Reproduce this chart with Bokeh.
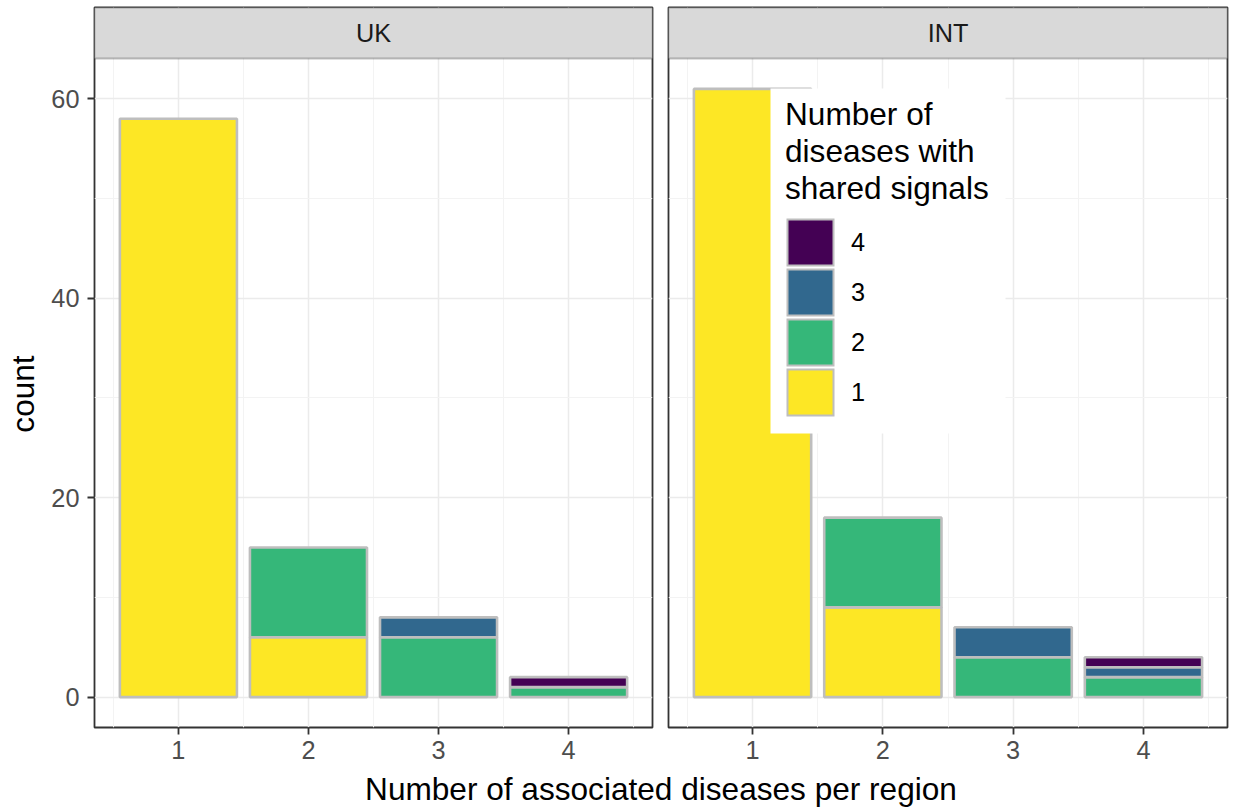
import math
from bokeh.plotting import figure
from bokeh.models import (ColumnDataSource, Range1d, FixedTicker, BoxAnnotation,
                          Label, Legend, LegendItem)
from bokeh.layouts import row, column
from bokeh.embed import file_html
from bokeh.resources import INLINE

# ---------------- data ----------------
x_values = [1, 2, 3, 4]
levels = ["1", "2", "3", "4"]
facets = ["UK", "INT"]

uk_level1 = [58, 6, 0, 0]
uk_level2 = [0, 9, 6, 1]
uk_level3 = [0, 0, 2, 0]
uk_level4 = [0, 0, 0, 1]

int_level1 = [61, 9, 0, 0]
int_level2 = [0, 9, 4, 2]
int_level3 = [0, 0, 3, 1]
int_level4 = [0, 0, 0, 1]

y_ticks = [0, 20, 40, 60]
y_minor = [10, 30, 50]
x_minor = [0.5, 1.5, 2.5, 3.5, 4.5]

legend_title = "Number of\ndiseases with\nshared signals"
x_title = "Number of associated diseases per region"
y_title = "count"

colors = {"1": "#FDE725", "2": "#35B779", "3": "#31688E", "4": "#440154"}
FONT = "Liberation Sans"
BIG = "31.6px"
SMALL = "25.3px"

facet_data = {
    "UK": [uk_level1, uk_level2, uk_level3, uk_level4],
    "INT": [int_level1, int_level2, int_level3, int_level4],
}

# ranges
ymax = max(max(sum(c) for c in zip(*facet_data[f])) for f in facets)
y_lo = -0.05 * ymax
y_hi = ymax * 1.05
x_lo, x_hi = 0.355, 4.645
frame_h = 720
strip_px = 51
panel_px = frame_h - strip_px
y_top = y_hi + (y_hi - y_lo) * strip_px / panel_px
top_border = 7
bottom_border = 45
fig_h = top_border + frame_h + bottom_border
title_w = 46


def make_panel(name, show_y, mb_left, mb_right, fw):
    p = figure(frame_width=fw, frame_height=frame_h, output_backend="svg",
               toolbar_location=None, x_range=Range1d(x_lo, x_hi),
               y_range=Range1d(y_lo, y_top),
               y_axis_location="left" if show_y else None,
               min_border_left=mb_left, min_border_right=mb_right,
               min_border_top=top_border, min_border_bottom=bottom_border)
    p.background_fill_color = "white"
    p.border_fill_color = "white"
    p.outline_line_color = "#333333"
    p.outline_line_width = 1.8

    p.xgrid.ticker = FixedTicker(ticks=x_values, minor_ticks=x_minor)
    p.ygrid.ticker = FixedTicker(ticks=y_ticks, minor_ticks=y_minor)
    for g in (p.xgrid, p.ygrid):
        g.grid_line_color = "#EBEBEB"
        g.grid_line_width = 1.5
        g.minor_grid_line_color = "#F3F3F3"
        g.minor_grid_line_width = 1.0

    xa = p.xaxis[0]
    xa.ticker = FixedTicker(ticks=x_values)
    xa.axis_line_color = None
    xa.major_tick_line_color = "#333333"
    xa.major_tick_line_width = 1.8
    xa.major_tick_out = 7
    xa.major_tick_in = 0
    xa.minor_tick_line_color = None
    xa.major_label_text_font = FONT
    xa.major_label_text_font_size = SMALL
    xa.major_label_text_color = "#4D4D4D"
    xa.major_label_standoff = 6

    if show_y:
        ya = p.yaxis[0]
        ya.ticker = FixedTicker(ticks=y_ticks)
        ya.axis_line_color = None
        ya.major_tick_line_color = "#333333"
        ya.major_tick_line_width = 1.8
        ya.major_tick_out = 7
        ya.major_tick_in = 0
        ya.minor_tick_line_color = None
        ya.major_label_text_font = FONT
        ya.major_label_text_font_size = SMALL
        ya.major_label_text_color = "#4D4D4D"
        ya.major_label_standoff = 8

    # stacked bars
    sources = {}
    bottoms = [0] * len(x_values)
    for lev, counts in zip(levels, facet_data[name]):
        xs, b, t = [], [], []
        for i, c in enumerate(counts):
            if c > 0:
                xs.append(x_values[i])
                b.append(bottoms[i])
                t.append(bottoms[i] + c)
                bottoms[i] += c
        src = ColumnDataSource(dict(x=xs, bottom=b, top=t))
        sources[lev] = src
        p.vbar(x="x", bottom="bottom", top="top", width=0.9, source=src,
               fill_color=colors[lev], line_color="#BEBEBE", line_width=2.6)

    # facet strip
    strip = BoxAnnotation(bottom=y_hi, top=y_top, fill_color="#D9D9D9",
                          fill_alpha=1.0, line_color="#333333", line_width=1.8)
    p.add_layout(strip)
    lab = Label(x=(x_lo + x_hi) / 2, y=(y_hi + y_top) / 2, text=name,
                text_align="center", text_baseline="middle",
                text_font=FONT, text_font_size=SMALL, text_color="#1A1A1A")
    p.add_layout(lab)
    return p, sources


p1, s1 = make_panel("UK", True, 94 - title_w, 8, 558)
p2, s2 = make_panel("INT", False, 8, 6, 559)

# legend keys: hidden square markers (drawn only inside the legend)
items = []
for lev in reversed(levels):
    k_border = p2.scatter(x="x", y="top", source=s2[lev], marker="square", size=10,
                          fill_color="#BEBEBE", line_color="#BEBEBE",
                          line_width=28, line_join="miter", visible=False)
    k_fill = p2.scatter(x="x", y="top", source=s2[lev], marker="square", size=10,
                        fill_color=colors[lev], line_color=colors[lev],
                        line_width=24, line_join="miter", visible=False)
    items.append(LegendItem(label=lev, renderers=[k_border, k_fill]))

legend_bg = BoxAnnotation(left=102, right=337, bottom=294, top=639,
                          left_units="screen", right_units="screen",
                          bottom_units="screen", top_units="screen",
                          fill_color="white", fill_alpha=1.0, line_color=None)
p2.add_layout(legend_bg)

legend = Legend(items=items, location=(117, 310), margin=0, padding=0, spacing=0,
                glyph_width=50, glyph_height=50, label_standoff=16,
                title=legend_title,
                title_text_font=FONT, title_text_font_size=BIG,
                title_text_font_style="normal", title_text_color="black",
                title_text_line_height=1.06, title_standoff=10,
                label_text_font=FONT, label_text_font_size=SMALL,
                label_text_color="black",
                border_line_color=None, background_fill_color="white",
                background_fill_alpha=0.0)
p2.add_layout(legend)


def text_strip(w, h):
    f = figure(width=w, height=h, output_backend="svg", toolbar_location=None,
               x_range=Range1d(0, 1), y_range=Range1d(0, 1),
               x_axis_location=None, y_axis_location=None, min_border=0)
    f.outline_line_color = None
    f.xgrid.visible = False
    f.ygrid.visible = False
    return f


# y-axis title (centred on the panel, below the strip; 46 px correction
# for how the rotated label is anchored)
p0 = text_strip(title_w, fig_h)
yl = Label(x=22, y=bottom_border + panel_px / 2 - 46, x_units="screen", y_units="screen",
           text=y_title, angle=math.pi / 2, text_align="center",
           text_baseline="middle", text_font=FONT, text_font_size=BIG,
           text_color="black")
p0.add_layout(yl)

# shared x-axis title
p3 = text_strip(1233, 37)
xt = Label(x=660.5, y=21, x_units="screen", y_units="screen",
           text=x_title, text_align="center", text_baseline="middle",
           text_font=FONT, text_font_size=BIG, text_color="black")
p3.add_layout(xt)

layout = column(row(p0, p1, p2), p3)
open("out.html", "w").write(file_html(layout, INLINE))
